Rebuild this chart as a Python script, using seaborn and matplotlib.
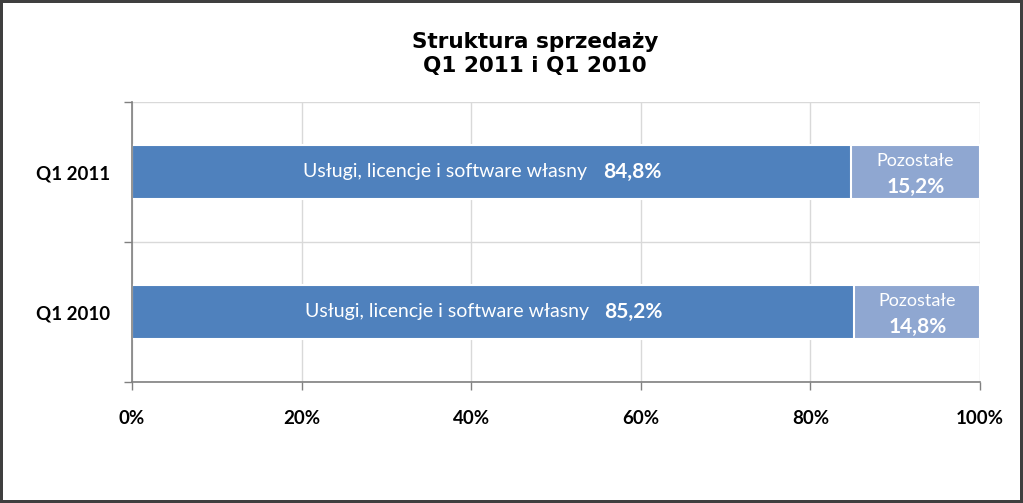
import matplotlib
matplotlib.use("Agg")
import matplotlib.pyplot as plt
import seaborn as sns
import pandas as pd
from matplotlib import font_manager
from matplotlib.ticker import FixedLocator, FuncFormatter

sns.set_theme(style="white")

# data
periods = ["Q1 2011", "Q1 2010"]
main_share = [84.8, 85.2]
other_share = [15.2, 14.8]
main_label = "Usługi, licencje i software własny"
other_label = "Pozostałe"
title = "Struktura sprzedaży\nQ1 2011 i Q1 2010"
x_ticks = [0, 20, 40, 60, 80, 100]

available = {f.name for f in font_manager.fontManager.ttflist}
body = "Lato" if "Lato" in available else "DejaVu Sans"

dark = "#4F81BD"
light = "#8FA7D1"
grid_col = "#D9D9D9"
axis_col = "#808080"

df = pd.DataFrame({"period": periods, "main": main_share, "other": other_share})
df["total"] = df["main"] + df["other"]

fig = plt.figure(figsize=(10.23, 5.03), dpi=100)
fig.patch.set_edgecolor("#3F3F3F")
fig.patch.set_linewidth(3)
ax = fig.add_axes([132 / 1023, 1 - 382 / 503, 848 / 1023, 280 / 503])

sns.barplot(data=df, x="total", y="period", color=light, orient="h", width=0.38,
            edgecolor="white", linewidth=1.5, saturation=1, ax=ax, zorder=3)
sns.barplot(data=df, x="main", y="period", color=dark, orient="h", width=0.38,
            edgecolor="white", linewidth=1.5, saturation=1, ax=ax, zorder=4)

ax.set_xlim(0, 100)
ax.set_ylim(1.5, -0.5)
ax.set_xlabel("")
ax.set_ylabel("")

# x axis
ax.xaxis.set_major_locator(FixedLocator(x_ticks))
ax.xaxis.set_major_formatter(FuncFormatter(lambda v, p: f"{v:.0f}%"))
ax.tick_params(axis="x", length=6, width=1, color=axis_col, pad=14, direction="out",
               bottom=True)
for lab in ax.get_xticklabels():
    lab.set_fontfamily(body)
    lab.set_fontweight("bold")
    lab.set_fontsize(13.5)
    lab.set_color("black")

# y axis: labels at categories, tick marks at boundaries
ax.set_yticks([0, 1])
ax.set_yticklabels(periods)
ax.set_yticks([-0.5, 0.5, 1.5], minor=True)
ax.tick_params(axis="y", which="major", length=0, pad=16)
ax.tick_params(axis="y", which="minor", length=6, width=1, color=axis_col, direction="out",
               left=True)
for lab in ax.get_yticklabels():
    lab.set_fontfamily(body)
    lab.set_fontweight("bold")
    lab.set_fontsize(13.5)
    lab.set_color("black")

ax.grid(False)
ax.xaxis.grid(True, which="major", color=grid_col, linewidth=1, zorder=0)
ax.yaxis.grid(True, which="minor", color=grid_col, linewidth=1, zorder=0)
ax.set_axisbelow(True)
for side in ["top", "right"]:
    ax.spines[side].set_visible(False)
for side in ["left", "bottom"]:
    ax.spines[side].set_color(axis_col)
    ax.spines[side].set_linewidth(1.2)
    ax.spines[side].set_zorder(5)

# labels inside bars
for i, row in df.iterrows():
    mid = row["main"] / 2
    ax.annotate(main_label, xy=(mid, i), xytext=(69, 0), textcoords="offset points",
                ha="right", va="center", color="white", fontsize=14, family=body, zorder=6)
    ax.annotate(f"{row['main']:.1f}%".replace(".", ","), xy=(mid, i), xytext=(80, 0),
                textcoords="offset points", ha="left", va="center", color="white",
                fontsize=15, fontweight="bold", family=body, zorder=6)
    omid = row["main"] + row["other"] / 2
    ax.annotate(other_label, xy=(omid, i), xytext=(0, 8), textcoords="offset points",
                ha="center", va="center", color="white", fontsize=13, family=body, zorder=6)
    ax.annotate(f"{row['other']:.1f}%".replace(".", ","), xy=(omid, i), xytext=(0, -11),
                textcoords="offset points", ha="center", va="center", color="white",
                fontsize=15, fontweight="bold", family=body, zorder=6)

fig.text(535 / 1023, 1 - 54 / 503, title, ha="center", va="center", fontsize=15.5,
         fontweight="bold", family="DejaVu Sans", color="black", linespacing=1.25)

fig.savefig("out.png", dpi=100, edgecolor=fig.get_edgecolor())
